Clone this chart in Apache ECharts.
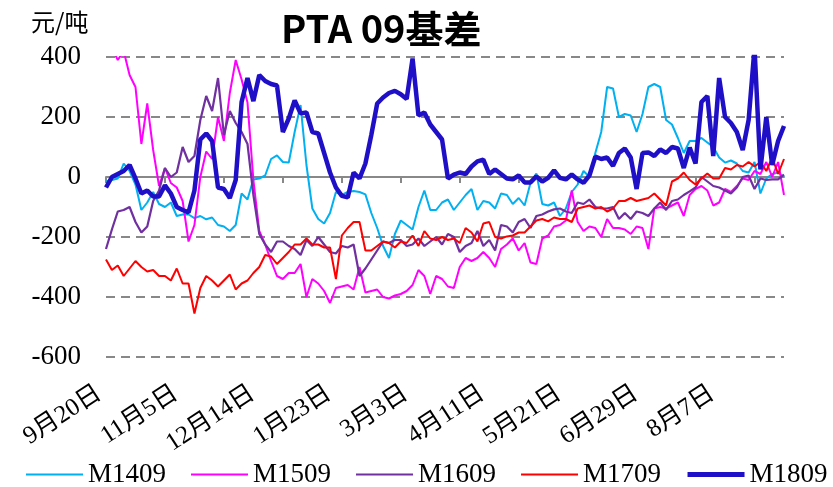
<!DOCTYPE html>
<html>
<head>
<meta charset="utf-8">
<script src="https://cdn.jsdelivr.net/npm/echarts@6/dist/echarts.min.js"></script>
<style>
html,body{margin:0;padding:0;background:#fff;}
#chart{width:833px;height:487px;}
</style>
</head>
<body>
<div id="chart"></div>
<script>
// 日期标签，每13个点一个
var dateLabels = ['9月20日','11月5日','12月14日','1月23日','3月3日','4月11日','5月21日','6月29日','8月7日'];
var seriesNames = ['M1409','M1509','M1609','M1709','M1809'];
var yTicks = {min: -600, max: 400, step: 200};

var m1409 = [-15,-10,-5,45,20,-25,-110,-85,-50,-90,-100,-85,-130,-125,-125,-137,-130,-141,-135,-160,
  -165,-180,-160,-55,-75,-8,-5,5,60,72,50,48,150,240,40,-105,-140,-155,-120,-50,
  -60,-50,-47,-50,-58,-120,-170,-230,-270,-190,-145,-160,-175,-100,-45,-110,-110,-85,-75,-110,
  -85,-60,-40,-110,-80,-85,-105,-55,-60,-90,-70,-95,-20,12,-90,-95,-85,-130,-105,-50,
  -25,20,0,80,150,300,295,200,210,205,150,210,300,310,300,190,175,130,80,120,
  120,130,115,100,65,48,55,45,20,15,50,-55,-5,10,15,0];
var m1509 = [440,430,390,420,340,300,110,245,90,-30,30,-20,-35,-80,-215,-160,0,85,60,200,
  120,280,390,325,248,-10,-180,-225,-280,-330,-340,-320,-320,-290,-400,-340,-355,-380,-420,-370,
  -365,-360,-375,-300,-385,-380,-375,-400,-405,-395,-390,-380,-360,-310,-330,-390,-330,-340,-365,-370,
  -300,-270,-280,-270,-250,-270,-300,-240,-225,-205,-245,-220,-285,-290,-205,-195,-165,-160,-145,-45,
  -150,-180,-165,-170,-200,-140,-170,-170,-175,-190,-165,-170,-240,-105,-100,-105,-95,-85,-130,-60,
  -40,-30,-45,-95,-85,-40,-50,-30,-5,-10,20,10,50,0,50,-60];
var m1609 = [-240,-175,-115,-110,-100,-150,-185,-165,-80,-45,30,0,15,100,50,70,190,270,220,330,
  140,220,180,150,110,-60,-190,-225,-250,-215,-215,-230,-240,-260,-210,-230,-200,-225,-250,-255,
  -230,-235,-225,-330,-305,-275,-245,-215,-220,-210,-210,-230,-225,-205,-230,-215,-200,-225,-190,-200,
  -250,-230,-220,-180,-230,-210,-245,-160,-165,-185,-150,-140,-170,-130,-125,-115,-108,-105,-115,-120,
  -85,-90,-75,-100,-105,-105,-100,-140,-120,-140,-115,-120,-130,-105,-85,-110,-80,-75,-60,-48,
  -35,0,-15,-30,-35,-45,-55,-35,0,5,-40,-5,-10,-8,-8,8];
var m1709 = [-275,-310,-295,-330,-305,-280,-300,-315,-310,-330,-330,-345,-305,-355,-355,-455,-370,-330,-345,-365,
  -345,-325,-375,-355,-345,-320,-300,-260,-265,-290,-270,-250,-225,-225,-205,-225,-225,-235,-235,-340,
  -195,-170,-150,-150,-245,-245,-230,-215,-220,-235,-215,-220,-195,-230,-180,-205,-210,-200,-210,-205,
  -220,-170,-185,-215,-155,-150,-200,-205,-198,-195,-185,-185,-165,-145,-140,-148,-135,-140,-140,-150,
  -105,-100,-95,-105,-100,-115,-105,-80,-80,-70,-80,-75,-70,-55,-75,-95,-15,-5,15,-10,
  -25,-5,12,-5,-5,30,25,40,35,50,35,50,20,65,10,60];
var m1809 = [-35,0,10,20,40,-5,-55,-45,-65,-65,-28,-55,-100,-110,-118,-45,125,145,120,-35,
  -40,-70,-10,250,330,253,340,320,310,305,150,195,255,212,215,150,145,80,15,-35,
  -63,-68,15,-5,45,140,245,265,280,287,276,260,395,205,215,175,150,125,-5,8,
  15,10,35,52,58,10,25,10,-5,-8,5,-18,-18,2,-15,-3,22,-3,-8,8,
  -8,-19,5,68,60,65,37,80,95,65,-40,80,82,70,92,80,100,95,30,98,
  45,250,270,70,330,200,180,150,90,190,430,25,200,40,120,170];

var lineColors = ['#00B0F0','#FF00FF','#7030A0','#FF0000','#1F0FC6'];
var lineWidths = [2,2,2.2,2,4.5];

var categories = [];
for (var i = 0; i < m1409.length; i++) {
    categories.push(i % 13 == 0 ? dateLabels[i / 13] : ' ' + i);
}

var chart = echarts.init(document.getElementById('chart'));
var allData = [m1409, m1509, m1609, m1709, m1809];

//图例线宽跟随系列
var legendData = [];
for (var j = 0; j < seriesNames.length; j++) {
    legendData.push({name: seriesNames[j], lineStyle: {width: j == 4 ? 5 : 2, color: lineColors[j]}});
}

chart.setOption({
    animation: false,
    title: [{
        text: 'PTA 09基差',
        left: 276,
        top: 5,
        textStyle: {fontFamily: 'Noto Sans CJK SC', fontWeight: 'bold', fontSize: 38, color: '#000'}
    }, {
        text: '元/吨',
        left: 26,
        top: 5,
        textStyle: {fontFamily: 'Noto Sans CJK SC', fontWeight: 'normal', fontSize: 24, color: '#000'}
    }],
    legend: {
        data: legendData,
        top: 456,
        left: 20,
        width: 813,
        itemWidth: 57,
        itemHeight: 2,
        itemGap: 24,
        itemStyle: {color: 'rgba(0,0,0,0)', borderWidth: 0},
        textStyle: {fontFamily: 'Liberation Serif', fontSize: 27, color: '#000'}
    },
    grid: {left: 106, right: 49, top: 57, bottom: 130},
    xAxis: {
        type: 'category',
        data: categories,
        boundaryGap: false,
        axisLine: {lineStyle: {color: '#888', width: 2}},
        axisTick: {interval: 9, length: 6, lineStyle: {color: '#888', width: 2}},
        axisLabel: {
            interval: 12,
            rotate: 33,
            margin: 30,
            padding: [0, 8, 0, 0],
            color: '#000',
            fontFamily: "'Liberation Serif', 'Noto Sans CJK SC'",
            fontSize: 25,
            formatter: function(v) { return v.charAt(0) == ' ' ? '' : v; }
        },
        splitLine: {show: false}
    },
    yAxis: {
        type: 'value',
        min: yTicks.min,
        max: yTicks.max,
        interval: yTicks.step,
        axisLine: {show: false},
        axisTick: {show: false},
        axisLabel: {margin: 25, color: '#000', fontFamily: 'Liberation Serif', fontSize: 27},
        splitLine: {lineStyle: {color: '#888', width: 2, type: [9, 6]}}
    },
    series: function() {
        var serie = [];
        for (var k = 0; k < seriesNames.length; k++) {
            serie.push({
                name: seriesNames[k],
                type: 'line',
                data: allData[k],
                symbol: 'none',
                clip: true,
                z: 2 + k,
                itemStyle: {color: lineColors[k]},
                lineStyle: {color: lineColors[k], width: lineWidths[k]}
            });
        }
        return serie;
    }()
});
</script>
</body>
</html>
